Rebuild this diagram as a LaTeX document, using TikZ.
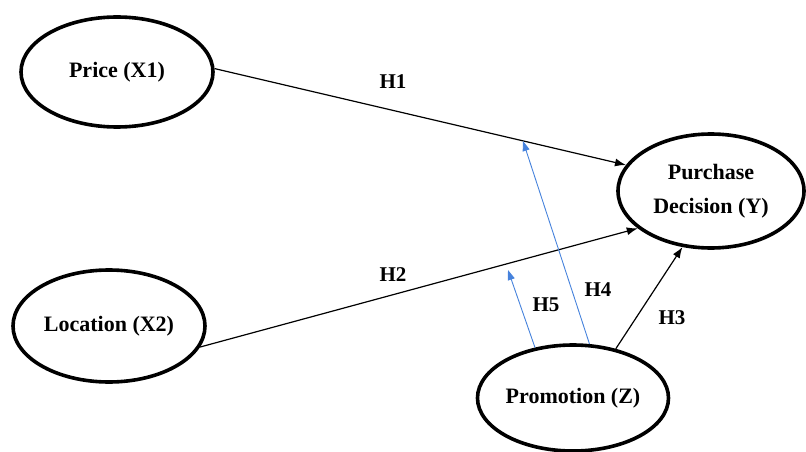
\documentclass[tikz,border=0pt]{standalone}
\usepackage{fontspec}
\setmainfont{Liberation Serif}[BoldFont={Liberation Serif Bold}]
\usetikzlibrary{shapes.geometric,arrows.meta}
\definecolor{hblue}{RGB}{70,130,220}
\begin{document}
\begin{tikzpicture}[x=1pt,y=-1pt,
  var/.style={ellipse,draw=black,line width=3.6pt,inner sep=0pt,
    font=\fontsize{22}{34}\selectfont\bfseries,align=center},
  blackarrow/.style={draw=black,line width=1.2pt,-{Latex[length=11pt,width=8pt]}},
  bluearrow/.style={draw=hblue,line width=0.9pt,-{Triangle[length=10pt,width=7pt]}},
  hlabel/.style={font=\fontsize{21}{24}\selectfont\bfseries,inner sep=0pt}]
\useasboundingbox (0,0) rectangle (806,452);
\node[var,minimum width=192pt,minimum height=110pt] (price) at (117,72) {Price (X1)};
\node[var,minimum width=192pt,minimum height=112pt] (loc) at (109,326) {Location (X2)};
\node[var,minimum width=186pt,minimum height=114pt] (pd) at (711,191) {Purchase\\Decision (Y)};
\node[var,minimum width=191pt,minimum height=106pt] (prom) at (573,398) {Promotion (Z)};
\coordinate (h4e) at (523,141);
\coordinate (h5e) at (508,270);
\draw[blackarrow] (price.2) -- (pd.163);
\draw[blackarrow] (loc.-13.6) -- (pd.207);
\draw[blackarrow] (prom.49) -- (pd.243);
\draw[bluearrow] (prom.73) -- (h4e);
\draw[bluearrow] (prom.127.7) -- (h5e);
\node[hlabel] (l1) at (393,82) {H1};
\node[hlabel] (l2) at (393,275) {H2};
\node[hlabel] (l3) at (672,318) {H3};
\node[hlabel] (l4) at (598,290) {H4};
\node[hlabel] (l5) at (546,305) {H5};
\end{tikzpicture}
\end{document}
